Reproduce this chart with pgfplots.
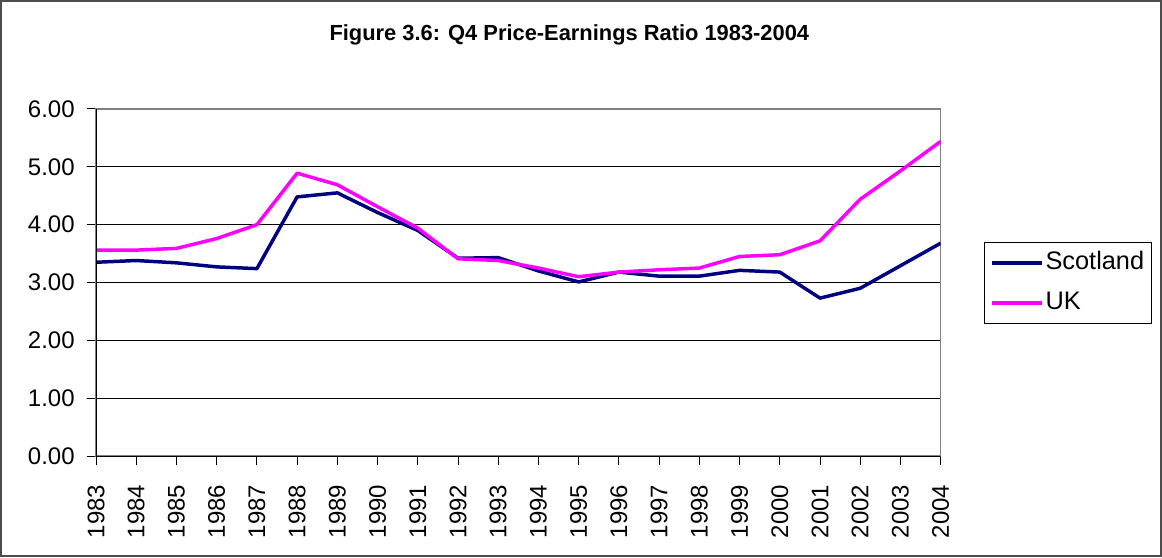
\documentclass[border=0pt]{standalone}
\usepackage{pgfplots}
\pgfplotsset{compat=1.18}
\usepackage{fontspec}
\setmainfont{Liberation Sans}
\definecolor{scot}{RGB}{0,0,128}
\definecolor{ukm}{RGB}{255,0,255}
\begin{document}
\begin{tikzpicture}
\useasboundingbox (0,0) rectangle (871.5pt,417.75pt);
\draw[gray!60!black, line width=1.2pt] (0.6pt,0.6pt) rectangle (870.9pt,417.15pt);
\node[font=\fontsize{16.4}{18}\selectfont\bfseries] at (427pt,391.5pt) {Figure 3.6: Q4 Price-Earnings Ratio 1983-2004};
\begin{axis}[
  at={(72pt,75.75pt)}, anchor=south west,
  scale only axis, width=633.5pt, height=260.25pt,
  xmin=0, xmax=21, ymin=0, ymax=6,
  xtick={0,...,21},
  xticklabels={1983,1984,1985,1986,1987,1988,1989,1990,1991,1992,1993,1994,1995,1996,1997,1998,1999,2000,2001,2002,2003,2004},
  ytick={0,1,2,3,4,5,6},
  yticklabels={0.00,1.00,2.00,3.00,4.00,5.00,6.00},
  xtick pos=bottom, ytick pos=left,
  tick align=outside, major tick length=7pt,
  tick style={black, line width=0.75pt},
  ymajorgrids, grid style={black, line width=0.75pt},
  axis line style={gray, line width=1pt},
  ticklabel style={font=\fontsize{18}{20}\selectfont},
  x tick label style={rotate=90, anchor=east},
  xticklabel shift=11pt,
  yticklabel shift=5.5pt,
  legend style={at={(1.0516,0.498)}, anchor=west, draw=black, line width=0.75pt,
    font=\fontsize{19}{21}\selectfont, inner xsep=4pt, inner ysep=4.5pt,
    nodes={inner sep=1.5pt, text height=14pt, text depth=4.5pt}, row sep=8.5pt},
  legend cell align=left,
  legend image code/.code={\draw[#1, line width=2.6pt] (0pt,0pt) -- (37.5pt,0pt);},
]
\addplot[scot, line width=2.6pt, line join=round] coordinates {
(0,3.35) (1,3.38) (2,3.34) (3,3.27) (4,3.24) (5,4.48) (6,4.55) (7,4.21) (8,3.90) (9,3.42) (10,3.43)
(11,3.20) (12,3.01) (13,3.18) (14,3.11) (15,3.11) (16,3.21) (17,3.18) (18,2.73) (19,2.90) (20,3.29) (21,3.68)};
\addlegendentry{Scotland}
\addplot[ukm, line width=2.6pt, line join=round] coordinates {
(0,3.56) (1,3.56) (2,3.59) (3,3.76) (4,4.00) (5,4.89) (6,4.69) (7,4.31) (8,3.94) (9,3.41) (10,3.38)
(11,3.25) (12,3.10) (13,3.18) (14,3.22) (15,3.25) (16,3.45) (17,3.48) (18,3.72) (19,4.44) (20,4.93) (21,5.44)};
\addlegendentry{UK}
\draw[black, line width=0.75pt] (rel axis cs:0,1) -- (rel axis cs:0,0) -- (rel axis cs:1,0);
\end{axis}
\end{tikzpicture}
\end{document}
